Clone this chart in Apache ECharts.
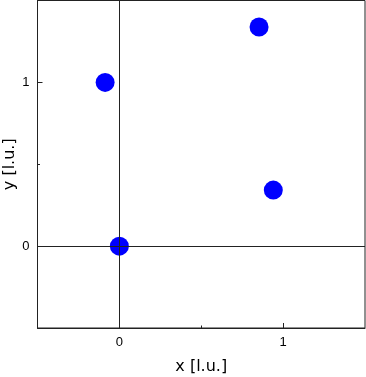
<!DOCTYPE html>
<html><head><meta charset="utf-8">
<script src="https://cdn.jsdelivr.net/npm/echarts@6/dist/echarts.min.js"></script>
<style>html,body{margin:0;padding:0;background:#fff}#c{width:366px;height:377px}</style>
</head><body><div id="c"></div>
<script>
const xValues = [0, -0.087, 0.94, 0.853];
const yValues = [0, 1.0, 0.342, 1.338];
const majorTicks = [0, 1];
const minorTicks = [0.5];
const xTitle = 'x [l.u.]';
const yTitle = 'y [l.u.]';

const points = xValues.map((x, i) => [x, yValues[i]]);
const ink = '#222';
const chart = echarts.init(document.getElementById('c'), null, {renderer: 'canvas'});
function axis(isX, minor) {
  return {
    type: 'value', min: -0.5, max: 1.5, interval: 0.5,
    position: isX ? 'bottom' : 'left',
    name: minor ? '' : (isX ? xTitle : yTitle),
    nameLocation: 'middle',
    nameMoveOverlap: false,
    nameGap: isX ? 31 : 20,
    nameTextStyle: {fontFamily: 'DejaVu Sans', fontSize: 16, color: '#000'},
    axisLine: {show: !minor, onZero: false, lineStyle: {color: ink, width: 1}},
    axisTick: {show: true, inside: true, length: minor ? 2.5 : 5,
      customValues: minor ? minorTicks : majorTicks, lineStyle: {color: ink, width: 1}},
    axisLabel: {show: !minor, customValues: majorTicks, margin: 8,
      fontFamily: 'Liberation Sans', fontSize: 13, color: '#000',
      formatter: v => String(v)},
    splitLine: {show: false}
  };
}
chart.setOption({
  animation: false,
  grid: {left: 37.5, right: 1, top: 0.5, bottom: 49, outerBoundsMode: 'none', containLabel: false,
    show: true, borderColor: ink, borderWidth: 1, backgroundColor: 'transparent'},
  xAxis: [axis(true, false), axis(true, true)],
  yAxis: [axis(false, false), axis(false, true)],
  series: [{
    type: 'scatter', data: points, symbolSize: 19,
    itemStyle: {color: '#0000ff', opacity: 1},
    markLine: {
      silent: true, symbol: 'none', label: {show: false}, animation: false,
      lineStyle: {color: ink, width: 1, type: 'solid'},
      data: [{xAxis: 0}, {yAxis: 0}]
    },
    z: 3
  }]
});
</script></body></html>
